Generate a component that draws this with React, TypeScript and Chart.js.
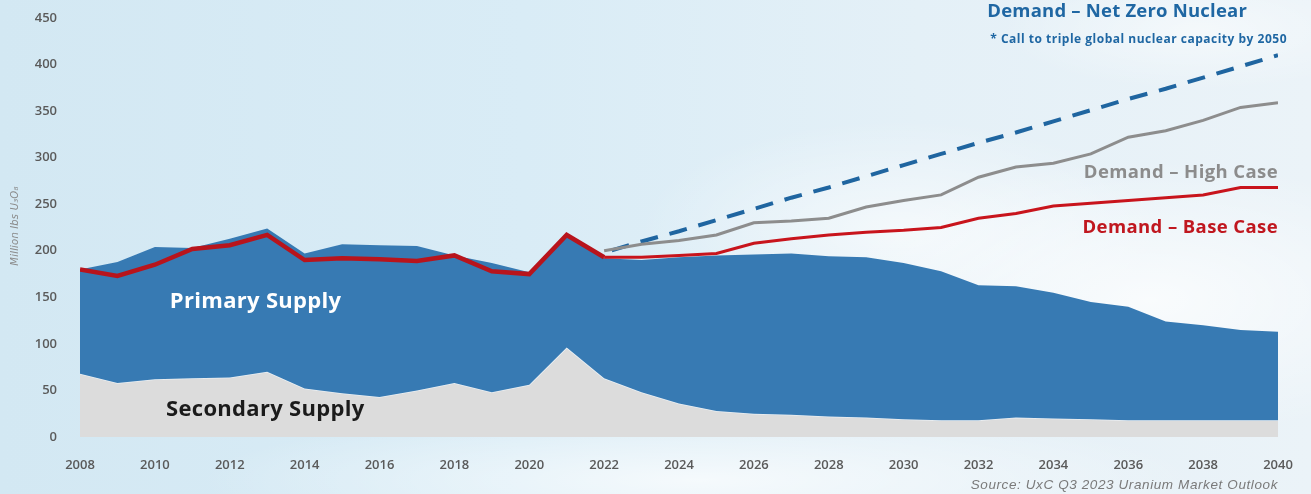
import React, { useEffect, useRef } from "react";
import { Chart, registerables } from "chart.js";

Chart.register(...registerables);

const years = [
  2008, 2009, 2010, 2011, 2012, 2013, 2014, 2015, 2016, 2017, 2018, 2019, 2020,
  2021, 2022, 2023, 2024, 2025, 2026, 2027, 2028, 2029, 2030, 2031, 2032, 2033,
  2034, 2035, 2036, 2037, 2038, 2039, 2040,
];

// Top of the blue area (primary + secondary supply)
const totalSupply = [
  180, 188, 204, 203, 213, 224, 197, 207, 206, 205, 195, 187, 177, 219, 192, 190,
  193, 195, 196, 197, 194, 193, 187, 178, 163, 162, 155, 145, 140, 124, 120, 115,
  113,
];

const secondarySupply = [
  68, 58, 62, 63, 64, 70, 52, 47, 43, 50, 58, 48, 56, 96, 63, 48, 36, 28, 25, 24,
  22, 21, 19, 18, 18, 21, 20, 19, 18, 18, 18, 18, 18,
];

const baseDemand = [
  180, 173, 185, 202, 206, 217, 190, 192, 191, 189, 195, 178, 175, 217, 193, 193,
  195, 197, 208, 213, 217, 220, 222, 225, 235, 240, 248, 251, 254, 257, 260, 268,
  268,
];

// 2022 - 2040
const highDemand = [
  200, 207, 211, 217, 230, 232, 235, 247, 254, 260, 279, 290, 294, 304, 322, 329,
  340, 354, 359,
];

// 2022 - 2040
const netZeroDemand = [
  198, 210, 221, 233, 245, 257, 268, 280, 292, 304, 316, 327, 339, 351, 363, 374,
  386, 398, 410,
];

const yTicks = [0, 50, 100, 150, 200, 250, 300, 350, 400, 450];

const FONT = "'Open Sans', 'DejaVu Sans', sans-serif";

function toPoints(vals: number[], startYear: number) {
  const start = years.indexOf(startYear);
  return vals.map((v, i) => ({ x: years[start + i], y: v }));
}

function setSpacing(ctx: any, px: number) {
  if ("letterSpacing" in ctx) ctx.letterSpacing = `${px}px`;
}

const labelsPlugin = {
  id: "labelsPlugin",
  afterDatasetsDraw(chart: any) {
    const { ctx, scales } = chart;
    const x = scales.x;
    const y = scales.y;
    ctx.save();
    ctx.textBaseline = "middle";

    ctx.fillStyle = "#ffffff";
    ctx.textAlign = "left";
    ctx.font = `700 22px ${FONT}`;
    setSpacing(ctx, 0.3);
    ctx.fillText("Primary Supply", x.getPixelForValue(2010.4), y.getPixelForValue(145));

    ctx.fillStyle = "#1b1b1b";
    ctx.fillText("Secondary Supply", x.getPixelForValue(2010.3), y.getPixelForValue(29));

    const right = x.getPixelForValue(2040);
    ctx.textAlign = "right";
    ctx.fillStyle = "#1f67a3";
    ctx.font = `700 18.5px ${FONT}`;
    setSpacing(ctx, 0.2);
    ctx.fillText("Demand \u2013 Net Zero Nuclear", right - 31, 12);
    ctx.font = `700 12px ${FONT}`;
    setSpacing(ctx, 0.5);
    ctx.fillText("* Call to triple global nuclear capacity by 2050", right + 9, 40);

    ctx.font = `700 18.5px ${FONT}`;
    setSpacing(ctx, 0.4);
    ctx.fillStyle = "#8c8c8c";
    ctx.fillText("Demand \u2013 High Case", right, y.getPixelForValue(284));
    ctx.fillStyle = "#c0171f";
    ctx.fillText("Demand \u2013 Base Case", right, y.getPixelForValue(225));

    ctx.font = `italic 13.5px 'Liberation Sans', Arial, sans-serif`;
    setSpacing(ctx, 0.6);
    ctx.fillStyle = "#7a7a7a";
    ctx.fillText("Source: UxC Q3 2023 Uranium Market Outlook", right, 485);

    // y axis title
    setSpacing(ctx, 0.2);
    ctx.translate(15, 226);
    ctx.rotate(-Math.PI / 2);
    ctx.textAlign = "center";
    ctx.font = `italic 10px 'DejaVu Sans', sans-serif`;
    ctx.fillStyle = "#8a8a8a";
    ctx.fillText("Million lbs U\u2083O\u2088", 0, 0);
    ctx.restore();
  },
};

export default function App() {
  const ref = useRef<HTMLCanvasElement | null>(null);

  useEffect(() => {
    if (!ref.current) return;
    const chart = new Chart(ref.current, {
      type: "line",
      data: {
        datasets: [
          {
            label: "Secondary Supply",
            data: toPoints(secondarySupply, 2008),
            backgroundColor: "#dcdcdc",
            borderColor: "rgba(236,242,246,0.9)",
            borderWidth: 1.5,
            pointRadius: 0,
            fill: "origin",
            tension: 0,
            order: 5,
          },
          {
            label: "Primary Supply",
            data: toPoints(totalSupply, 2008),
            backgroundColor: "#377ab3",
            borderColor: "#377ab3",
            borderWidth: 0,
            pointRadius: 0,
            fill: "-1",
            tension: 0,
            order: 4,
          },
          {
            label: "Demand - Net Zero Nuclear",
            data: toPoints(netZeroDemand, 2022),
            borderColor: "#1f65a0",
            borderWidth: 4,
            borderDash: [18, 12],
            borderDashOffset: -8,
            pointRadius: 0,
            fill: false,
            tension: 0,
            order: 3,
          },
          {
            label: "Demand - High Case",
            data: toPoints(highDemand, 2022),
            borderColor: "#8d8d8d",
            borderWidth: 3,
            pointRadius: 0,
            fill: false,
            tension: 0,
            order: 2,
          },
          {
            label: "Demand - Base Case",
            data: toPoints(baseDemand, 2008),
            borderColor: "#c0161e",
            borderWidth: 3,
            pointRadius: 0,
            fill: false,
            tension: 0,
            order: 1,
            segment: {
              borderWidth: (c: any) => (c.p0.parsed.x < 2022 ? 4.5 : 3),
              borderColor: (c: any) => (c.p0.parsed.x < 2022 ? "#b8141c" : "#c8141c"),
            },
          } as any,
        ],
      },
      options: {
        responsive: false,
        animation: false,
        layout: { padding: { top: 18, right: 33, left: 0, bottom: 0 } },
        plugins: {
          legend: { display: false },
          tooltip: { enabled: false },
        },
        scales: {
          x: {
            type: "linear",
            min: 2008,
            max: 2040,
            grid: { display: false },
            border: { display: false },
            ticks: {
              stepSize: 2,
              padding: 12,
              color: "#5a5a5a",
              font: { family: FONT, size: 13, weight: "600" },
              callback: (v: any) => String(v),
              maxRotation: 0,
            },
            afterFit: (s: any) => {
              s.height = 57;
            },
          },
          y: {
            min: 0,
            max: 450,
            grid: { display: false },
            border: { display: false },
            afterBuildTicks: (s: any) => {
              s.ticks = yTicks.map((v) => ({ value: v }));
            },
            ticks: {
              padding: 15,
              color: "#5a5a5a",
              font: { family: FONT, size: 13, weight: "600" },
            },
            afterFit: (s: any) => {
              s.width = 80;
              s.paddingTop = 0;
              s.paddingBottom = 0;
            },
          },
        },
      },
      plugins: [labelsPlugin],
    });
    return () => chart.destroy();
  }, []);

  return (
    <div
      style={{
        position: "fixed",
        left: 0,
        top: 0,
        width: 1311,
        height: 494,
        overflow: "hidden",
        background:
          "radial-gradient(ellipse 320px 140px at 1150px 300px, rgba(255,255,255,0.75), rgba(255,255,255,0) 100%)," +
          "radial-gradient(ellipse 260px 110px at 900px 230px, rgba(255,255,255,0.6), rgba(255,255,255,0) 100%)," +
          "radial-gradient(ellipse 500px 70px at 700px 480px, rgba(255,255,255,0.7), rgba(255,255,255,0) 100%)," +
          "radial-gradient(ellipse 200px 60px at 1200px 30px, rgba(255,255,255,0.5), rgba(255,255,255,0) 100%)," +
          "linear-gradient(90deg, #d3e8f3 0%, #d9ecf6 40%, #e4f0f7 70%, #ebf3f8 100%)",
      }}
    >
      <canvas ref={ref} width={1311} height={494} style={{ display: "block" }} />
    </div>
  );
}
